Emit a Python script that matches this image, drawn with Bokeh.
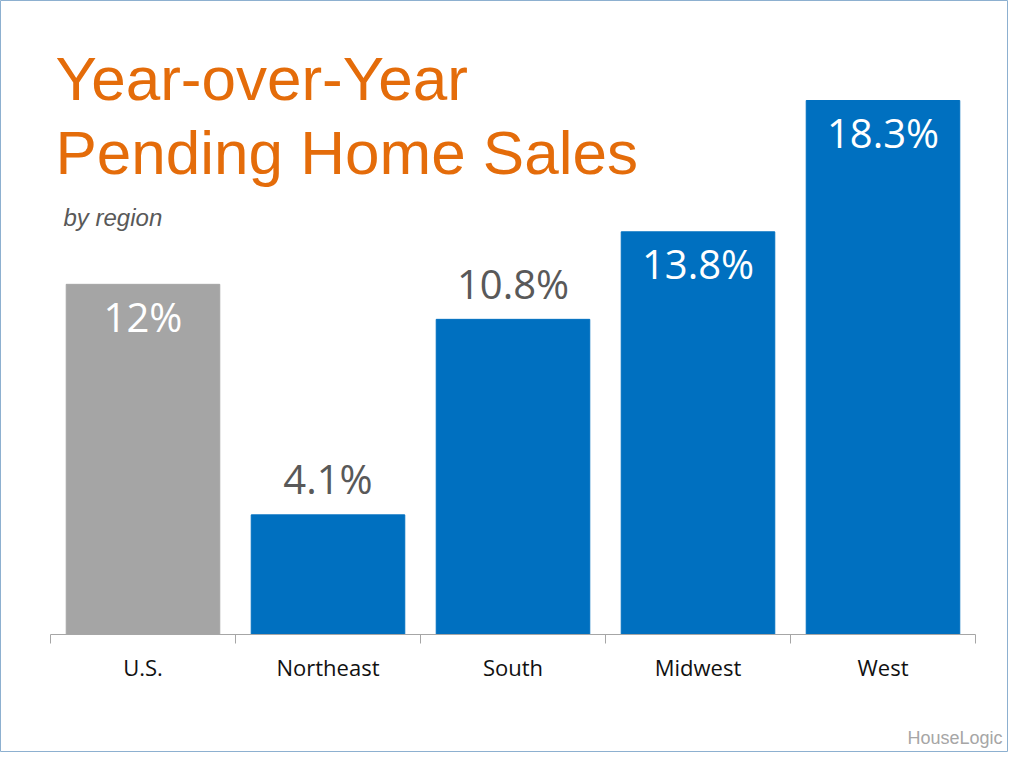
from bokeh.plotting import figure
from bokeh.models import Range1d, FixedTicker, Label, ColumnDataSource
from bokeh.core.properties import value
from bokeh.embed import file_html
from bokeh.resources import INLINE

# ---- data ----
regions = ["U.S.", "Northeast", "South", "Midwest", "West"]
pending_change = [12.0, 4.1, 10.8, 13.8, 18.3]
value_labels = ["12%", "4.1%", "10.8%", "13.8%", "18.3%"]

# ---- styles ----
bar_colors = ["#A5A5A5", "#0070C0", "#0070C0", "#0070C0", "#0070C0"]
label_inside = [True, False, False, True, True]

W, H = 1008, 752
PX_PER_UNIT = 29.18          # vertical scale of the bars
BASE_FROM_TOP = 634           # baseline pixel position from top
LEFT_PX, CAT_PX = 50, 185     # axis start and category width in px

y_start = -(H - BASE_FROM_TOP) / PX_PER_UNIT
y_end = BASE_FROM_TOP / PX_PER_UNIT
x_start = -LEFT_PX / CAT_PX
x_end = (W - LEFT_PX) / CAT_PX

p = figure(width=W, height=H, output_backend="svg", toolbar_location=None,
           x_range=Range1d(x_start, x_end), y_range=Range1d(y_start, y_end),
           y_axis_location=None, min_border=0)
p.xgrid.visible = False
p.ygrid.visible = False
p.background_fill_color = "white"
p.border_fill_color = "white"
p.outline_line_color = "#8DB0D0"
p.outline_line_width = 1

xs = [i + 0.5 for i in range(len(regions))]
src = ColumnDataSource(dict(
    x=xs, top=pending_change, color=bar_colors, label=value_labels,
    label_color=["white" if inside else "#595959" for inside in label_inside],
    yoff=[32 if inside else -36 for inside in label_inside],
))
p.vbar(x="x", top="top", bottom=0, width=0.83, color="color", source=src)
p.text(x="x", y="top", text="label", text_color="label_color", y_offset="yoff",
       text_align="center", text_baseline="middle",
       text_font=value("Open Sans"), text_font_size="40px", source=src)

ax = p.xaxis[0]
ax.fixed_location = 0
ax.bounds = (0, len(regions))
ax.ticker = FixedTicker(ticks=xs, minor_ticks=list(range(len(regions) + 1)))
ax.major_label_overrides = {x: r for x, r in zip(xs, regions)}
ax.major_tick_line_color = None
ax.major_tick_out = 0
ax.major_tick_in = 0
ax.minor_tick_out = 9
ax.minor_tick_in = 0
ax.minor_tick_line_color = "#A6A6A6"
ax.axis_line_color = "#A6A6A6"
ax.major_label_text_font = "Open Sans"
ax.major_label_text_font_size = "22px"
ax.major_label_text_color = "#111111"
ax.major_label_standoff = 8

title_font = "Liberation Sans"
p.add_layout(Label(x=55, y=H - 78, x_units="screen", y_units="screen",
                   text="Year-over-Year", text_font=title_font,
                   text_font_size="62px", text_color="#E46C0A",
                   text_baseline="alphabetic"))
p.add_layout(Label(x=55, y=H - 152, x_units="screen", y_units="screen",
                   text="Pending Home Sales", text_font=title_font,
                   text_font_size="62px", text_color="#E46C0A",
                   text_baseline="alphabetic"))
p.add_layout(Label(x=63, y=H - 217, x_units="screen", y_units="screen",
                   text="by region", text_font=title_font,
                   text_font_size="24px", text_font_style="italic",
                   text_color="#595959", text_baseline="alphabetic"))
p.add_layout(Label(x=1002, y=H - 737, x_units="screen", y_units="screen",
                   text="HouseLogic", text_font=title_font,
                   text_font_size="18px", text_color="#A6A6A6",
                   text_align="right", text_baseline="alphabetic"))

open("out.html", "w").write(file_html(p, INLINE))
